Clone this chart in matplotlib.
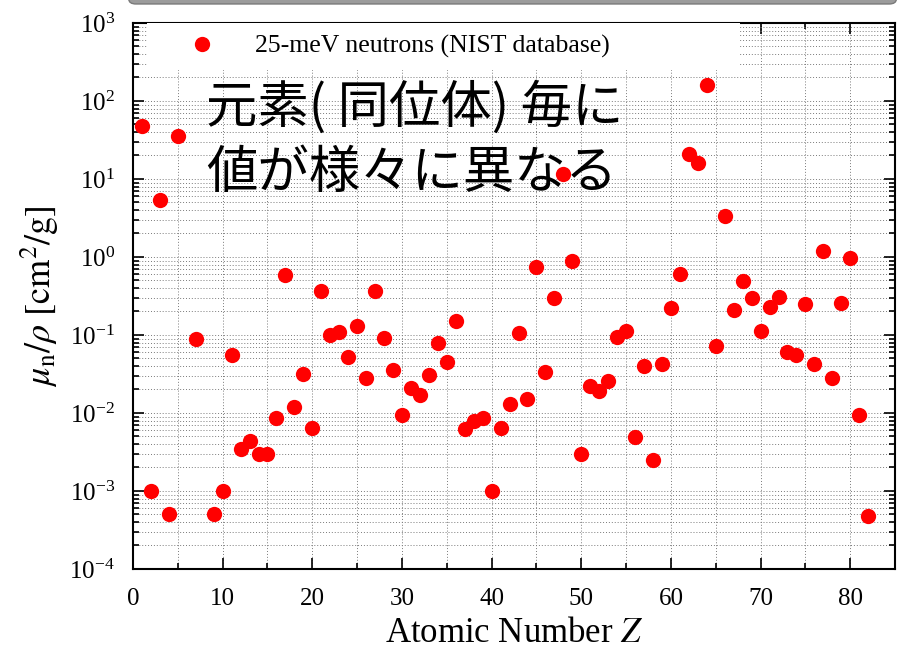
import matplotlib
matplotlib.use("Agg")
import matplotlib.pyplot as plt
from matplotlib.patches import FancyBboxPatch
from matplotlib.ticker import MultipleLocator, LogLocator, FixedLocator, NullFormatter

# thermal-neutron mass attenuation coefficient per element
atomic_number = [1, 2, 3, 4, 5, 7, 9, 10, 11, 12, 13, 14, 15, 16, 17, 18, 19, 20,
                 21, 22, 23, 24, 25, 26, 27, 28, 29, 30, 31, 32, 33, 34, 35, 36,
                 37, 38, 39, 40, 41, 42, 43, 44, 45, 46, 47, 48, 49, 50, 51, 52,
                 53, 54, 55, 56, 57, 58, 59, 60, 61, 62, 63, 64, 65, 66, 67, 68,
                 69, 70, 71, 72, 73, 74, 75, 76, 77, 78, 79, 80, 81, 82]
mu_rho = [48, 1.0e-3, 5.3, 5.0e-4, 36, 0.09, 5.0e-4, 1.0e-3, 0.055, 0.0035,
          0.0044, 0.0030, 0.0030, 0.0087, 0.58, 0.012, 0.032, 0.0065,
          0.37, 0.10, 0.11, 0.052, 0.13, 0.028, 0.37, 0.092, 0.036, 0.0095,
          0.021, 0.017, 0.031, 0.080, 0.045, 0.15,
          0.0062, 0.0080, 0.0087, 1.0e-3, 0.0064, 0.013, 0.105, 0.015, 0.74,
          0.034, 0.30, 11.5, 0.90, 0.0030, 0.022, 0.019,
          0.026, 0.095, 0.112, 0.0049, 0.040, 0.0025, 0.042, 0.22, 0.60, 21,
          16, 160, 0.073, 3.4, 0.21, 0.49,
          0.30, 0.113, 0.23, 0.31, 0.060, 0.056, 0.25, 0.042, 1.2, 0.028,
          0.26, 0.98, 0.0093, 4.8e-4]

y_decades = [1e-4, 1e-3, 1e-2, 1e-1, 1e0, 1e1, 1e2, 1e3]
legend_label = "25-meV neutrons (NIST database)"
note_lines = ["元素( 同位体) 毎に", "値が様々に異なる"]

plt.rcParams["font.family"] = ["Liberation Serif", "DejaVu Serif"]
plt.rcParams["mathtext.fontset"] = "stix"

fig = plt.figure(figsize=(9, 6.51), dpi=100)
ax = fig.add_axes([0.1478, 0.126, 0.8467, 0.8387])

ax.plot(atomic_number, mu_rho, "o", color="#ff0000", markersize=11,
        markeredgewidth=0, label=legend_label, zorder=3)

ax.set_yscale("log")
ax.set_xlim(0, 85)
ax.set_ylim(y_decades[0], y_decades[-1])

ax.xaxis.set_major_locator(MultipleLocator(10))
ax.xaxis.set_minor_locator(MultipleLocator(5))
ax.yaxis.set_major_locator(FixedLocator(y_decades))
ax.yaxis.set_minor_locator(LogLocator(base=10, subs=range(2, 10), numticks=10))
ax.yaxis.set_minor_formatter(NullFormatter())

ax.grid(True, which="both", axis="both", linestyle=(0, (1, 2)),
        color="#7a7a7a", linewidth=0.7)
ax.set_axisbelow(True)

ax.tick_params(which="both", direction="in", top=True, right=True,
               labelsize=18, width=1.2)
ax.tick_params(which="major", length=8)
ax.tick_params(which="minor", length=4)
ax.tick_params(axis="x", which="major", pad=14)
ax.tick_params(axis="y", which="major", pad=13)
for s in ax.spines.values():
    s.set_linewidth(1.5)

ax.set_xlabel("Atomic Number $Z$", fontsize=25, labelpad=5)
ax.set_ylabel(r"$\mu_{\rm n}/\rho\ [{\rm cm}^2/{\rm g}]$", fontsize=26,
              labelpad=6)

leg = ax.legend(loc="upper left", bbox_to_anchor=(0.018, 0.925, 0.778, 0.075),
                mode="expand", borderaxespad=0, frameon=True, fancybox=False,
                facecolor="white", edgecolor="none", framealpha=1,
                fontsize=18.5, handlelength=3.4, handletextpad=0.35,
                borderpad=0.45, markerscale=1.0)

# big annotation in Japanese
fig.text(0.229, 0.834, note_lines[0], fontsize=37, va="center", ha="left",
         family=["Noto Sans CJK JP", "DejaVu Sans"])
fig.text(0.229, 0.734, note_lines[1], fontsize=37, va="center", ha="left",
         family=["Noto Sans CJK JP", "DejaVu Sans"])

# grey bar peeking in along the top edge
bar = FancyBboxPatch((0.143, 0.9939), 0.853, 0.06,
                     boxstyle="round,pad=0,rounding_size=0.008",
                     transform=fig.transFigure, facecolor="#9c9c9c",
                     edgecolor="#7a7a7a", linewidth=1, clip_on=False)
fig.patches.append(bar)

fig.savefig("out.png", dpi=100)
